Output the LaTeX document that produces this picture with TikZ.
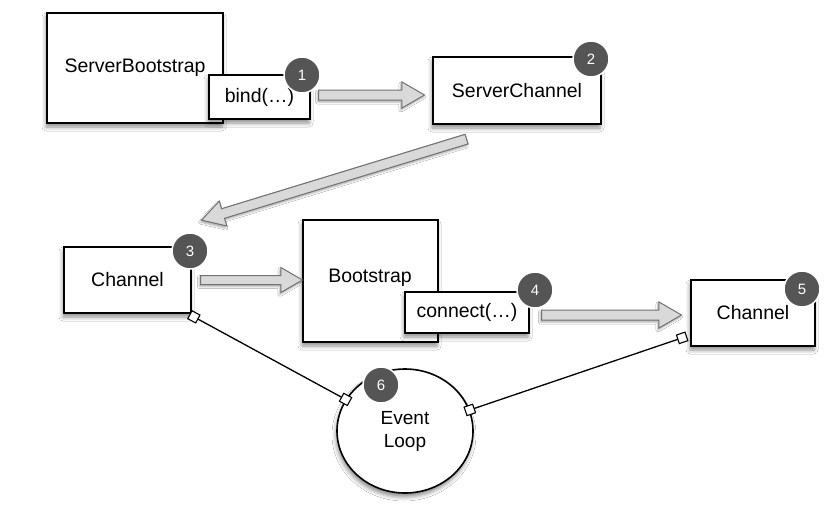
\documentclass[tikz,border=0pt]{standalone}
\usepackage{fontspec}
\setmainfont{Liberation Sans}
\usetikzlibrary{shadows.blur,shapes.arrows,shapes.geometric,calc}

\definecolor{badgegray}{HTML}{555555}
\definecolor{arrowfill}{HTML}{D9D9D9}
\definecolor{arrowline}{HTML}{727272}

\tikzset{
  softshadow/.style={blur shadow={shadow xshift=-1pt, shadow yshift=-4pt,
      shadow blur radius=4pt, shadow opacity=45}},
  box/.style={draw=black, line width=1.7pt, fill=white, inner sep=0pt,
      softshadow, font=\fontsize{19.5}{22}\selectfont},
  loopnode/.style={ellipse, draw=black, line width=1.6pt, fill=white,
      inner sep=0pt, align=center, softshadow,
      font=\fontsize{19}{23}\selectfont},
  badge/.style={circle, fill=badgegray, draw=white, line width=1.5pt,
      minimum size=36pt, inner sep=0pt, text=white,
      font=\fontsize{15}{15}\selectfont},
  fat/.style={single arrow, draw=arrowline, fill=arrowfill, line width=1pt,
      inner sep=0pt, single arrow head extend=8pt, single arrow tip angle=60,
      blur shadow={shadow xshift=-1pt, shadow yshift=-2pt,
      shadow blur radius=2pt, shadow opacity=35}},
  link/.style={draw=black, line width=1.3pt},
  endsq/.style={draw=black, fill=white, line width=1.1pt, minimum size=9pt,
      inner sep=0pt, sloped}
}

% hollow block arrow from #1 to #2 with shaft width #3
\newcommand\fatarrow[3]{%
  \path let \p1=(#1), \p2=(#2),
        \n1={atan2(\y2-\y1,\x2-\x1)},
        \n2={veclen(\x2-\x1,\y2-\y1)} in
    node[fat, minimum height=\n2, rotate=\n1, anchor=tail] at (\p1)
      {\rule{0pt}{#3}};}

\begin{document}
\begin{tikzpicture}[x=1pt, y=-1pt]
  \path[fill=white] (0,0) rectangle (840,511);
  \useasboundingbox (0,0) rectangle (840,511);

  % server side
  \node[box, minimum width=176, minimum height=110] (sb) at (135,68) {ServerBootstrap};
  \node[box, minimum width=101, minimum height=44] (bind) at (259.5,97) {bind(\dots)};
  \node[box, minimum width=168, minimum height=67] (sc) at (517,90.5) {ServerChannel};

  % client side
  \node[box, minimum width=127, minimum height=66] (ch) at (127.5,280) {Channel};
  \node[box, minimum width=135, minimum height=122] (bs) at (370.5,281) {};
  \node[font=\fontsize{19.5}{22}\selectfont] (bslabel) at (370,278) {Bootstrap};
  \node[box, minimum width=124, minimum height=41] (conn) at (467,312.5) {connect(\dots)};
  \node[box, minimum width=124, minimum height=66] (ch2) at (753,313) {Channel};

  % event loop
  \node[loopnode, minimum width=136, minimum height=124] (ev) at (405,431) {Event\\Loop};

  % block arrows
  \coordinate (a1s) at (318,95);  \coordinate (a1e) at (424,95);
  \coordinate (a2s) at (467,139); \coordinate (a2e) at (202,220);
  \coordinate (a3s) at (200,280); \coordinate (a3e) at (302,280);
  \coordinate (a4s) at (541,315); \coordinate (a4e) at (681,315);
  \fatarrow{a1s}{a1e}{9pt}
  \fatarrow{a2s}{a2e}{9pt}
  \fatarrow{a3s}{a3e}{8pt}
  \fatarrow{a4s}{a4e}{9pt}

  % event loop links
  \coordinate (l1) at ($(ch.south east)+(2,3)$);
  \coordinate (l2) at ($(ch2.south west)+(-8,-9)$);
  \draw[link] (l1) -- node[endsq, pos=0]{} node[endsq, pos=1]{} (ev.152);
  \draw[link] (ev.18) -- node[endsq, pos=0]{} node[endsq, pos=1]{} (l2);

  % step badges
  \node[badge] (n1) at (302,75) {1};
  \node[badge] (n2) at (591,59) {2};
  \node[badge] (n3) at (190,251) {3};
  \node[badge] (n4) at (535,290) {4};
  \node[badge] (n5) at (802,289) {5};
  \node[badge] (n6) at (381,385) {6};
\end{tikzpicture}
\end{document}
